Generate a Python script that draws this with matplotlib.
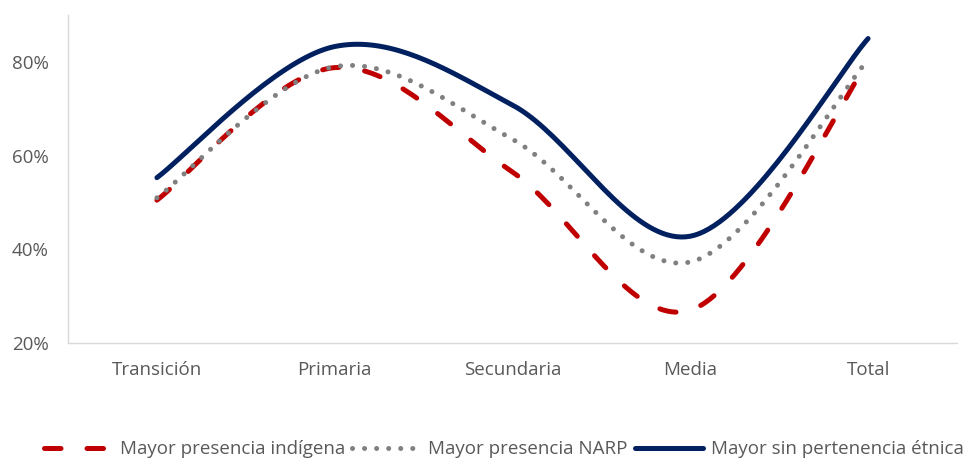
import numpy as np
import matplotlib
matplotlib.use("Agg")
from matplotlib import pyplot as plt

# categories and series (percent)
categorias = ["Transición", "Primaria", "Secundaria", "Media", "Total"]
indigena = [50.5, 78.8, 56.5, 27.0, 80.0]
narp = [51.0, 79.0, 63.5, 37.3, 80.5]
sin_etnia = [55.3, 83.3, 70.8, 42.8, 85.0]

nombres = ["Mayor presencia indígena", "Mayor presencia NARP", "Mayor sin pertenencia étnica"]


# Excel-style smoothing: cubic bezier through the points (Catmull-Rom)
def suavizar(xs, ys, n=40):
    xs = np.asarray(xs, float)
    ys = np.asarray(ys, float)
    px = np.concatenate([[xs[0]], xs, [xs[-1]]])
    py = np.concatenate([[ys[0]], ys, [ys[-1]]])
    ox, oy = [], []
    t = np.linspace(0, 1, n)
    for i in range(1, len(px) - 2):
        p0 = np.array([px[i], py[i]])
        p3 = np.array([px[i + 1], py[i + 1]])
        p1 = p0 + (np.array([px[i + 1], py[i + 1]]) - np.array([px[i - 1], py[i - 1]])) / 6
        p2 = p3 - (np.array([px[i + 2], py[i + 2]]) - np.array([px[i], py[i]])) / 6
        b = ((1 - t) ** 3)[:, None] * p0 + (3 * (1 - t) ** 2 * t)[:, None] * p1 \
            + (3 * (1 - t) * t ** 2)[:, None] * p2 + (t ** 3)[:, None] * p3
        ox.extend(b[:, 0])
        oy.extend(b[:, 1])
    return np.array(ox), np.array(oy)


plt.rcParams['font.family'] = ['Open Sans', 'DejaVu Sans']
fig = plt.figure(figsize=(9.69, 4.59), dpi=100)
ax = fig.add_axes([0.0702, 0.2527, 0.9174, 0.7143])

x = np.arange(len(categorias))
lw = 3.6

sx, sy = suavizar(x, indigena)
ax.plot(sx, sy, color='#C00000', lw=lw, dashes=(3.3, 5.2), dash_capstyle='round',
        label=nombres[0])
sx, sy = suavizar(x, narp)
ax.plot(sx, sy, color='#808080', lw=lw, dashes=(0.01, 2.4), dash_capstyle='round',
        label=nombres[1])
sx, sy = suavizar(x, sin_etnia)
ax.plot(sx, sy, color='#002060', lw=lw, solid_capstyle='round', label=nombres[2])

ax.set_xlim(-0.5, 4.5)
ax.set_ylim(20, 90)
ax.set_yticks([20, 40, 60, 80])
ax.set_yticklabels(["20%", "40%", "60%", "80%"])
ax.set_xticks(x)
ax.set_xticklabels(categorias)
ax.tick_params(length=0, labelsize=13.5, colors='#595959')
ax.tick_params(axis='y', pad=14)
ax.tick_params(axis='x', pad=13)

for s in ['top', 'right']:
    ax.spines[s].set_visible(False)
for s in ['left', 'bottom']:
    ax.spines[s].set_color('#D9D9D9')
    ax.spines[s].set_linewidth(1.0)

leg = fig.legend(loc='lower center', bbox_to_anchor=(0.52, -0.035), ncol=3,
                 frameon=False, fontsize=13.5, handlelength=3.6, handletextpad=0.45,
                 columnspacing=0.4, labelcolor='#595959')

fig.savefig("out.png", dpi=100)
